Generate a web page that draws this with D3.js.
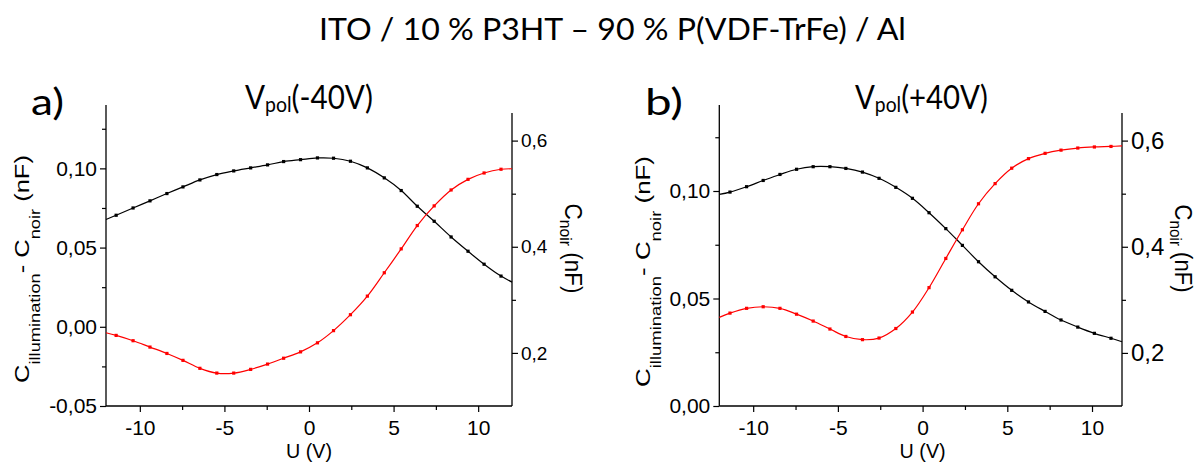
<!DOCTYPE html>
<html><head><meta charset="utf-8">
<script src="https://cdn.jsdelivr.net/npm/d3@7"></script>
<style>
html,body{margin:0;padding:0;background:#fff;}
svg{display:block;}
</style></head>
<body>
<svg id="chart" width="1194" height="464"></svg>
<script>
// ---- data ----
const titleText = "ITO / 10 % P3HT \u2013 90 % P(VDF-TrFe) / Al";
const panelNames = ["a)", "b)"];
const polarisations = ["(-40V)", "(+40V)"];

const uA = [-12, -11.4, -10.4, -9.4, -8.4, -7.45, -6.45, -5.45, -4.45, -3.45, -2.45, -1.5, -0.5, 0.5, 1.45, 2.45, 3.45, 4.45, 5.45, 6.4, 7.4, 8.4, 9.4, 10.35, 11.35, 12];
const diffA = [0.0677, 0.0704, 0.0750, 0.0795, 0.0841, 0.0883, 0.0927, 0.0961, 0.0984, 0.1003, 0.1022, 0.1043, 0.1055, 0.1066, 0.1064, 0.1045, 0.1003, 0.0940, 0.0860, 0.0761, 0.0666, 0.0567, 0.0477, 0.0395, 0.0320, 0.0282];
const noirA = [0.238, 0.233, 0.223, 0.211, 0.199, 0.186, 0.171, 0.162, 0.162, 0.169, 0.179, 0.190, 0.202, 0.219, 0.242, 0.272, 0.307, 0.351, 0.396, 0.440, 0.477, 0.507, 0.527, 0.539, 0.546, 0.547];

const uB = [-12, -11.37, -10.39, -9.41, -8.42, -7.44, -6.46, -5.47, -4.53, -3.55, -2.57, -1.58, -0.6, 0.38, 1.37, 2.35, 3.3, 4.28, 5.26, 6.25, 7.23, 8.17, 9.16, 10.14, 11.12, 11.77];
const diffB = [0.0984, 0.0995, 0.1020, 0.1049, 0.1077, 0.1101, 0.1113, 0.1113, 0.1105, 0.1088, 0.1059, 0.1017, 0.0966, 0.0899, 0.0825, 0.0747, 0.0671, 0.0601, 0.0538, 0.0484, 0.0440, 0.0400, 0.0367, 0.0338, 0.0315, 0.0299];
const noirB = [0.267, 0.275, 0.284, 0.287, 0.284, 0.273, 0.260, 0.245, 0.231, 0.225, 0.228, 0.246, 0.277, 0.323, 0.378, 0.432, 0.481, 0.519, 0.548, 0.566, 0.576, 0.582, 0.586, 0.588, 0.589, 0.590];

const xTicks = [-10, -5, 0, 5, 10];
const xTickLabels = ["-10", "-5", "0", "5", "10"];
const xMinor = [-7.5, -2.5, 2.5, 7.5];
const leftTicksA = [-0.05, 0, 0.05, 0.10];
const leftLabelsA = ["-0,05", "0,00", "0,05", "0,10"];
const leftMinorA = [-0.025, 0.025, 0.075, 0.125];
const leftTicksB = [0, 0.05, 0.10];
const leftLabelsB = ["0,00", "0,05", "0,10"];
const leftMinorB = [0.025, 0.075, 0.125];
const rightTicks = [0.2, 0.4, 0.6];
const rightLabels = ["0,2", "0,4", "0,6"];
const rightMinor = [0.3, 0.5];

// ---- layout ----
const panels = [
  {u: uA, diff: diffA, noir: noirA, xDom: [-12, 12], lDom: [-0.05, 0.14], rDom: [0.1, 0.652],
   x0: 106, x1: 512, lTicks: leftTicksA, lLabels: leftLabelsA, lMinor: leftMinorA,
   rFont: 19, name: panelNames[0], pol: polarisations[0],
   nameX: 31, nameW: 33, polX: 245, polW: 128, yLabX: 29, yLabY: 269, yLabW: 228, rLabX: 565, rLabW: 90},
  {u: uB, diff: diffB, noir: noirB, xDom: [-12, 11.77], lDom: [0, 0.14], rDom: [0.1, 0.652],
   x0: 719.3, x1: 1122, lTicks: leftTicksB, lLabels: leftLabelsB, lMinor: leftMinorB,
   rFont: 24, name: panelNames[1], pol: polarisations[1],
   nameX: 645, nameW: 38, polX: 855, polW: 133, yLabX: 650, yLabY: 271.5, yLabW: 231, rLabX: 1175, rLabW: 88}
];
const yBottom = 406, yTopL = 105, yTopR = 113;

const svg = d3.select("#chart");
const calibri = "Lato, 'Open Sans', sans-serif";
const arial = "'Liberation Sans', Arial, sans-serif";

function fitText(t, x, y, rot, target) {
  const base = `translate(${x},${y})` + (rot ? ` rotate(${rot})` : "");
  t.attr("transform", base);
  const w = t.node().getBBox().width;
  t.attr("transform", base + ` scale(${target / w},1)`);
}

// title
const title = svg.append("text").attr("font-family", calibri).attr("font-size", 31)
  .attr("fill", "#000").text(titleText);
fitText(title, 319, 40, 0, 587);

panels.forEach(p => {
  const x = d3.scaleLinear().domain(p.xDom).range([p.x0, p.x1]);
  const yl = d3.scaleLinear().domain(p.lDom).range([yBottom, yTopL]);
  const yr = d3.scaleLinear().domain(p.rDom).range([yBottom, yTopR]);
  const g = svg.append("g");

  // axes
  const bottom = g.append("g").attr("transform", `translate(0,${yBottom})`)
    .call(d3.axisBottom(x).tickValues(xTicks).tickSize(6).tickPadding(8)
      .tickFormat((d, i) => xTickLabels[i]));
  g.append("g").attr("transform", `translate(0,${yBottom})`)
    .call(d3.axisBottom(x).tickValues(xMinor).tickSize(4).tickFormat(""));
  const left = g.append("g").attr("transform", `translate(${p.x0},0)`)
    .call(d3.axisLeft(yl).tickValues(p.lTicks).tickSize(6).tickPadding(3)
      .tickFormat((d, i) => p.lLabels[i]));
  g.append("g").attr("transform", `translate(${p.x0},0)`)
    .call(d3.axisLeft(yl).tickValues(p.lMinor).tickSize(4).tickFormat(""));
  const right = g.append("g").attr("transform", `translate(${p.x1},0)`)
    .call(d3.axisRight(yr).tickValues(rightTicks).tickSize(6).tickPadding(3)
      .tickFormat((d, i) => rightLabels[i]));
  g.append("g").attr("transform", `translate(${p.x1},0)`)
    .call(d3.axisRight(yr).tickValues(rightMinor).tickSize(4).tickFormat(""));

  g.selectAll(".domain").remove();
  g.selectAll(".tick line").attr("stroke", "#000").attr("stroke-width", 1.2);
  g.selectAll(".tick text").attr("font-family", arial).attr("fill", "#000");
  bottom.selectAll("text").attr("font-size", 21);
  left.selectAll("text").attr("font-size", 21);
  right.selectAll("text").attr("font-size", p.rFont);

  g.append("line").attr("x1", p.x0).attr("x2", p.x1).attr("y1", yBottom).attr("y2", yBottom)
    .attr("stroke", "#000").attr("stroke-width", 1.3);
  g.append("line").attr("x1", p.x0).attr("x2", p.x0).attr("y1", yBottom).attr("y2", yl.range()[1])
    .attr("stroke", "#000").attr("stroke-width", 1.3);
  g.append("line").attr("x1", p.x1).attr("x2", p.x1).attr("y1", yBottom).attr("y2", yr.range()[1])
    .attr("stroke", "#000").attr("stroke-width", 1.3);

  // series
  const series = [
    {vals: p.diff, y: yl, color: "#000000"},
    {vals: p.noir, y: yr, color: "#ff0000"}
  ];
  series.forEach(s => {
    const pts = p.u.map((u, i) => [u, s.vals[i]]);
    const line = d3.line().x(d => x(d[0])).y(d => s.y(d[1])).curve(d3.curveCatmullRom.alpha(0.5));
    g.append("path").attr("d", line(pts)).attr("fill", "none")
      .attr("stroke", s.color).attr("stroke-width", 1.2);
    g.selectAll(null).data(pts.slice(1, -1)).enter().append("rect")
      .attr("x", d => x(d[0]) - 1.6).attr("y", d => s.y(d[1]) - 1.6)
      .attr("width", 3.2).attr("height", 3.2).attr("fill", s.color);
  });

  // panel name and polarisation title
  const nm = g.append("text").attr("font-family", calibri).attr("font-size", 36).text(p.name);
  fitText(nm, p.nameX, 115, 0, p.nameW);
  const pol = g.append("text").attr("font-family", calibri).attr("font-size", 32);
  pol.append("tspan").text("V");
  pol.append("tspan").attr("font-size", 21).attr("dy", 3).text("pol");
  pol.append("tspan").attr("dy", -3).text(p.pol);
  fitText(pol, p.polX, 109, 0, p.polW);

  // left axis label
  const yl1 = g.append("text").attr("font-family", arial).attr("font-size", 21)
    .attr("text-anchor", "middle");
  yl1.append("tspan").text("C");
  yl1.append("tspan").attr("font-size", 15).attr("dy", 11).text("illumination");
  yl1.append("tspan").attr("dy", -11).text("- C");
  yl1.append("tspan").attr("font-size", 15).attr("dy", 11).text("noir");
  yl1.append("tspan").attr("dy", -11).text(" (nF)");
  fitText(yl1, p.yLabX, p.yLabY, -90, p.yLabW);

  // right axis label
  const yr1 = g.append("text").attr("font-family", arial).attr("font-size", 23)
    .attr("text-anchor", "middle");
  yr1.append("tspan").text("C");
  yr1.append("tspan").attr("font-size", 16).attr("dy", 5).text("noir");
  yr1.append("tspan").attr("dy", -5).text(" (nF)");
  fitText(yr1, p.rLabX, 248.5, 90, p.rLabW);

  // x axis label
  const xl = g.append("text").attr("font-family", arial).attr("font-size", 21)
    .attr("text-anchor", "middle").text("U (V)");
  fitText(xl, x(0), 458, 0, 46);
});
</script>
</body></html>
